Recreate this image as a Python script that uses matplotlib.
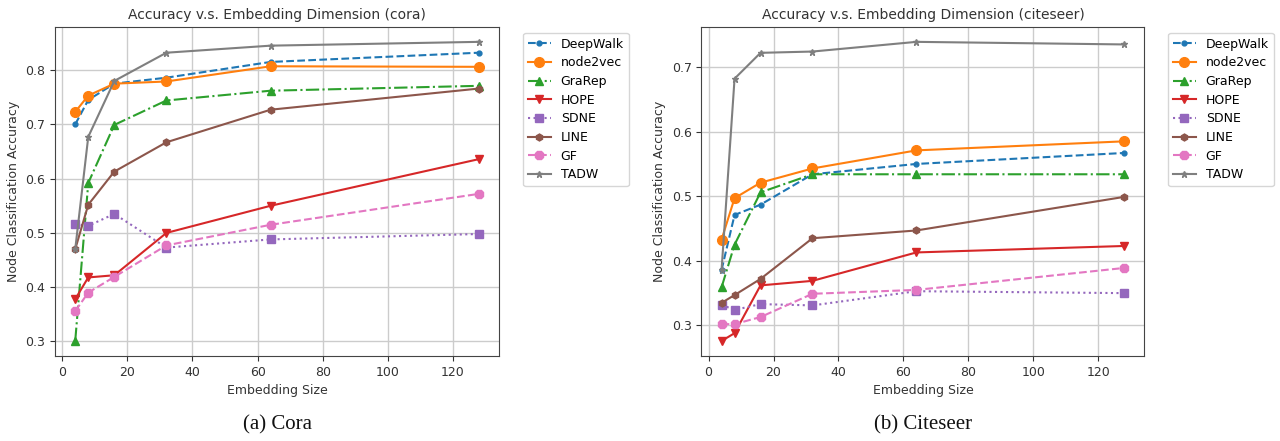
import matplotlib.pyplot as plt

dims = [4, 8, 16, 32, 64, 128]
methods = ["DeepWalk", "node2vec", "GraRep", "HOPE", "SDNE", "LINE", "GF", "TADW"]

# cora accuracies
cora_deepwalk = [0.700, 0.745, 0.775, 0.786, 0.815, 0.832]
cora_node2vec = [0.723, 0.753, 0.775, 0.779, 0.807, 0.806]
cora_grarep = [0.301, 0.592, 0.699, 0.744, 0.762, 0.771]
cora_hope = [0.378, 0.418, 0.422, 0.500, 0.550, 0.636]
cora_sdne = [0.516, 0.513, 0.535, 0.473, 0.488, 0.498]
cora_line = [0.470, 0.552, 0.613, 0.667, 0.727, 0.766]
cora_gf = [0.356, 0.390, 0.419, 0.477, 0.515, 0.572]
cora_tadw = [0.470, 0.677, 0.780, 0.832, 0.845, 0.852]

# citeseer accuracies
cite_deepwalk = [0.386, 0.471, 0.487, 0.534, 0.550, 0.567]
cite_node2vec = [0.433, 0.497, 0.521, 0.543, 0.571, 0.585]
cite_grarep = [0.359, 0.425, 0.506, 0.534, 0.534, 0.534]
cite_hope = [0.276, 0.288, 0.362, 0.369, 0.413, 0.423]
cite_sdne = [0.332, 0.324, 0.333, 0.331, 0.353, 0.350]
cite_line = [0.335, 0.347, 0.372, 0.435, 0.447, 0.499]
cite_gf = [0.302, 0.302, 0.313, 0.349, 0.355, 0.389]
cite_tadw = [0.386, 0.682, 0.722, 0.724, 0.739, 0.735]

styles = [
    dict(color="tab:blue", ls="--", marker=".", ms=7),
    dict(color="tab:orange", ls="-", marker="o", ms=7),
    dict(color="tab:green", ls="-.", marker="^", ms=6),
    dict(color="tab:red", ls="-", marker="v", ms=6),
    dict(color="tab:purple", ls=":", marker="s", ms=6),
    dict(color="tab:brown", ls="-", marker="h", ms=5),
    dict(color="tab:pink", ls="--", marker="8", ms=6),
    dict(color="tab:gray", ls="-", marker="*", ms=5),
]

plt.rcParams["font.family"] = "DejaVu Sans"
fig = plt.figure(figsize=(12.8, 4.41), dpi=100)

panels = [
    ([0.043, 0.193, 0.347, 0.746], "cora", "(a) Cora",
     [cora_deepwalk, cora_node2vec, cora_grarep, cora_hope, cora_sdne, cora_line, cora_gf, cora_tadw]),
    ([0.548, 0.193, 0.346, 0.746], "citeseer", "(b) Citeseer",
     [cite_deepwalk, cite_node2vec, cite_grarep, cite_hope, cite_sdne, cite_line, cite_gf, cite_tadw]),
]

for rect, name, caption, series in panels:
    ax = fig.add_axes(rect)
    for label, vals, st in zip(methods, series, styles):
        ax.plot(dims, vals, label=label, lw=1.5, **st)
    ax.set_title(f"Accuracy v.s. Embedding Dimension ({name})", fontsize=10, color="#333333")
    ax.set_xlabel("Embedding Size", fontsize=9, color="#333333")
    ax.set_ylabel("Node Classification Accuracy", fontsize=9, color="#333333")
    ax.tick_params(labelsize=9, colors="#333333")
    ax.grid(True, color="#cccccc", lw=1)
    for sp in ax.spines.values():
        sp.set_color("#444444")
    ax.legend(loc="upper left", bbox_to_anchor=(1.054, 0.982), fontsize=9,
              borderaxespad=0, handlelength=1.8, labelspacing=0.45)
    ax.text(0.5, -0.18, caption, transform=ax.transAxes, ha="center", va="top",
            fontsize=15, family="Liberation Serif", color="#111111")

fig.savefig("out.png", dpi=100)
